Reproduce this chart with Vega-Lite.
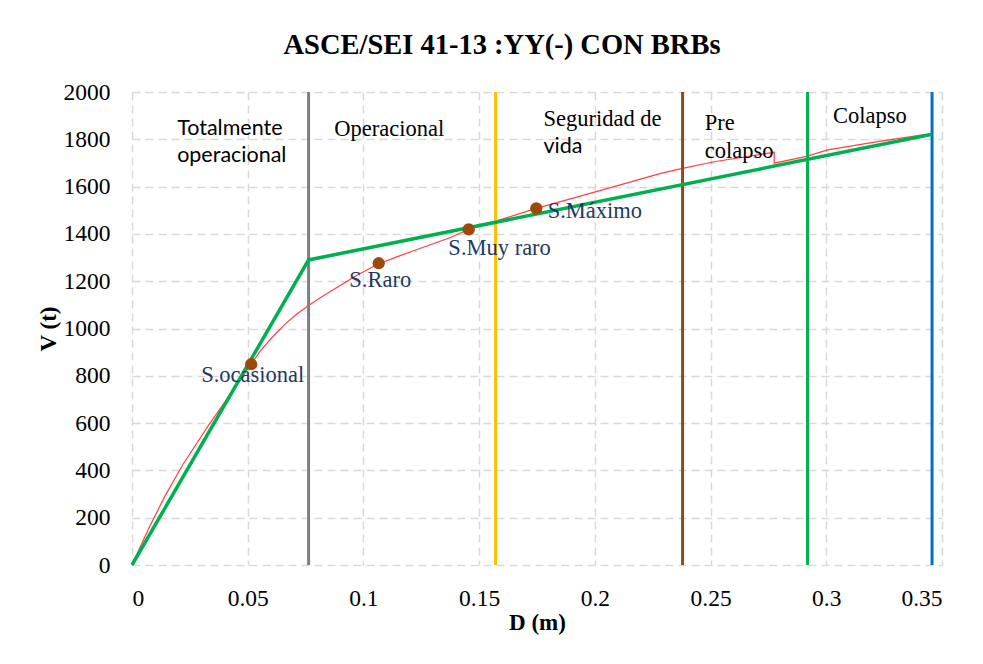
{
  "$schema": "https://vega.github.io/schema/vega-lite/v6.json",
  "autosize": "none",
  "width": 810,
  "height": 473,
  "padding": {"left": 132, "top": 92, "right": 41, "bottom": 99},
  "background": "white",
  "config": {
    "view": {"stroke": null},
    "axis": {
      "labelFont": "Liberation Serif",
      "labelFontSize": 23.5,
      "labelColor": "black",
      "titleFont": "Liberation Serif",
      "titleFontSize": 23,
      "titleFontWeight": "bold",
      "titleColor": "black",
      "domain": false,
      "ticks": false,
      "grid": true,
      "gridColor": "#D9D9D9",
      "gridDash": [8, 5],
      "gridWidth": 1.5
    }
  },
  "title": {
    "text": "ASCE/SEI  41-13 :YY(-) CON BRBs",
    "font": "Liberation Serif",
    "fontSize": 28.5,
    "fontWeight": "bold",
    "color": "black",
    "anchor": "middle",
    "dx": -35,
    "offset": 21
  },
  "datasets": {
    "bilineal": [
      {"D": 0, "V": 0},
      {"D": 0.0763, "V": 1290},
      {"D": 0.3457, "V": 1821}
    ],
    "curva": [
      {"n": 1, "D": 0, "V": 0},
      {"n": 2, "D": 0.007, "V": 150},
      {"n": 3, "D": 0.0141, "V": 289},
      {"n": 4, "D": 0.022, "V": 425},
      {"n": 5, "D": 0.0329, "V": 588},
      {"n": 6, "D": 0.0459, "V": 770},
      {"n": 7, "D": 0.0515, "V": 850},
      {"n": 8, "D": 0.0556, "V": 906},
      {"n": 9, "D": 0.0605, "V": 962},
      {"n": 10, "D": 0.0655, "V": 1012},
      {"n": 11, "D": 0.0705, "V": 1056},
      {"n": 12, "D": 0.0763, "V": 1097},
      {"n": 13, "D": 0.0815, "V": 1131},
      {"n": 14, "D": 0.0871, "V": 1165},
      {"n": 15, "D": 0.0966, "V": 1222},
      {"n": 16, "D": 0.1066, "V": 1274},
      {"n": 17, "D": 0.115, "V": 1305},
      {"n": 18, "D": 0.1232, "V": 1334},
      {"n": 19, "D": 0.1376, "V": 1385},
      {"n": 20, "D": 0.1455, "V": 1419},
      {"n": 21, "D": 0.157, "V": 1453},
      {"n": 22, "D": 0.1747, "V": 1508},
      {"n": 23, "D": 0.201, "V": 1580},
      {"n": 24, "D": 0.2285, "V": 1656},
      {"n": 25, "D": 0.2379, "V": 1677},
      {"n": 26, "D": 0.2515, "V": 1705},
      {"n": 27, "D": 0.2775, "V": 1745},
      {"n": 28, "D": 0.2775, "V": 1699},
      {"n": 29, "D": 0.2919, "V": 1729},
      {"n": 30, "D": 0.3006, "V": 1755},
      {"n": 31, "D": 0.3222, "V": 1790},
      {"n": 32, "D": 0.341, "V": 1818},
      {"n": 33, "D": 0.3457, "V": 1821}
    ],
    "limites": [
      {"D": 0.0763, "limite": "Totalmente operacional"},
      {"D": 0.1571, "limite": "Operacional"},
      {"D": 0.2379, "limite": "Seguridad de vida"},
      {"D": 0.2919, "limite": "Pre colapso"},
      {"D": 0.3457, "limite": "Colapso"}
    ],
    "sismos": [
      {"sismo": "S.ocasional", "D": 0.0515, "V": 849},
      {"sismo": "S.Raro", "D": 0.1066, "V": 1276},
      {"sismo": "S.Muy raro", "D": 0.1455, "V": 1419},
      {"sismo": "S.Máximo", "D": 0.1747, "V": 1508}
    ],
    "etiquetas": [
      {"texto": "S.ocasional", "D": 0.0299, "V": 805},
      {"texto": "S.Raro", "D": 0.0939, "V": 1207},
      {"texto": "S.Muy raro", "D": 0.1367, "V": 1342},
      {"texto": "S.Máximo", "D": 0.1796, "V": 1497}
    ],
    "zonas": [
      {"texto": "Totalmente\noperacional", "D": 0.0195, "V": 1842},
      {"texto": "Operacional", "D": 0.0874, "V": 1844},
      {"texto": "Seguridad de", "D": 0.1778, "V": 1886},
      {"texto": "vida", "D": 0.1778, "V": 1767},
      {"texto": "Pre\ncolapso", "D": 0.2475, "V": 1869},
      {"texto": "Colapso", "D": 0.3029, "V": 1899}
    ]
  },
  "encoding": {
    "x": {
      "field": "D", "type": "quantitative",
      "scale": {"domain": [0, 0.35], "nice": false, "zero": true},
      "axis": {
        "title": "D (m)",
        "values": [0, 0.05, 0.1, 0.15, 0.2, 0.25, 0.3, 0.35],
        "format": ".2~f",
        "grid": true,
        "labelPadding": 21,
        "titlePadding": 2
      }
    },
    "y": {
      "field": "V", "type": "quantitative",
      "scale": {"domain": [0, 2000], "nice": false},
      "axis": {
        "title": "V (t)",
        "values": [0, 200, 400, 600, 800, 1000, 1200, 1400, 1600, 1800, 2000],
        "format": "d",
        "grid": true,
        "gridColor": "#D9D9D9",
        "gridDash": [8, 5],
        "gridWidth": 1.5,
        "labelPadding": 22,
        "titlePadding": 3
      }
    }
  },
  "layer": [
    {
      "data": {"name": "curva"},
      "mark": {"type": "line", "color": "#FF0000", "strokeWidth": 1.2, "opacity": 0.75},
      "encoding": {
        "order": {"field": "n", "type": "quantitative"}
      }
    },
    {
      "data": {"name": "limites"},
      "mark": {"type": "rule", "strokeWidth": 3},
      "encoding": {
        "y": null,
        "color": {
          "field": "limite", "type": "nominal", "legend": null,
          "scale": {
            "domain": ["Totalmente operacional", "Operacional", "Seguridad de vida", "Pre colapso", "Colapso"],
            "range": ["#7F7F7F", "#FFC000", "#8C4A1E", "#00B050", "#0070C0"]
          }
        }
      }
    },
    {
      "data": {"name": "bilineal"},
      "mark": {"type": "line", "color": "#00B050", "strokeWidth": 3.5},
      "encoding": {}
    },
    {
      "data": {"name": "sismos"},
      "mark": {"type": "circle", "color": "#9E480E", "opacity": 1, "size": 150},
      "encoding": {}
    },
    {
      "data": {"name": "etiquetas"},
      "mark": {"type": "text", "font": "Liberation Serif", "fontSize": 22.5, "color": "#1F3864", "align": "left", "baseline": "middle"},
      "encoding": {
        "text": {"field": "texto"}
      }
    },
    {
      "data": {"name": "zonas"},
      "transform": [{"filter": {"field": "texto", "oneOf": ["Totalmente\noperacional", "vida"]}}],
      "mark": {"type": "text", "font": "Lato", "fontSize": 21.5, "color": "black", "align": "left", "baseline": "middle", "lineBreak": "\n", "lineHeight": 27},
      "encoding": {
        "text": {"field": "texto"}
      }
    },
    {
      "data": {"name": "zonas"},
      "transform": [{"filter": {"field": "texto", "oneOf": ["Operacional", "Seguridad de", "Pre\ncolapso", "Colapso"]}}],
      "mark": {"type": "text", "font": "Liberation Serif", "fontSize": 22.5, "color": "black", "align": "left", "baseline": "middle", "lineBreak": "\n", "lineHeight": 28},
      "encoding": {
        "text": {"field": "texto"}
      }
    }
  ]
}
